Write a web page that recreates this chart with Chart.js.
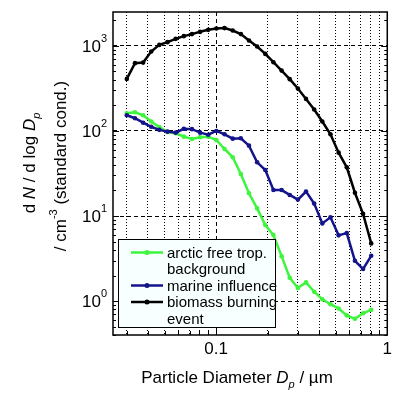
<!DOCTYPE html>
<html>
<head>
<meta charset="utf-8">
<script src="https://cdn.jsdelivr.net/npm/chart.js@4.4.0/dist/chart.umd.min.js"></script>
<style>
html, body { margin: 0; padding: 0; background: #fff; }
#wrap { width: 396px; height: 397px; }
</style>
</head>
<body>
<div id="wrap"><canvas id="size_dist"></canvas></div>
<script>
// particle diameter (um) of each size bin
var diameters = [0.0301, 0.0336, 0.0375, 0.0418, 0.0466, 0.0520, 0.0581, 0.0648, 0.0723, 0.0807,
    0.0900, 0.1004, 0.1121, 0.1251, 0.1395, 0.1557, 0.1737, 0.1939, 0.2163, 0.2414,
    0.2693, 0.3005, 0.3353, 0.3741, 0.4175, 0.4658, 0.5198, 0.5800, 0.6472, 0.7222, 0.8058];

// dN/dlogDp, cm-3
var arcticFree = [161.5, 166, 153, 129, 111, 97.3, 94, 85.7, 80.5, 84.3,
    85.7, 78.3, 61.4, 49.0, 31.2, 18.5, 12.3, 7.84, 5.98, 3.38,
    1.88, 1.43, 1.66, 1.29, 1.05, 0.92, 0.82, 0.68, 0.62, 0.72, 0.79];
var marine = [153, 141, 125, 112, 103, 98.2, 95.5, 106, 105, 95.5,
    90.4, 100, 91.4, 81.2, 82.0, 67.2, 42.8, 34.8, 20.2, 20.2,
    17.7, 15.6, 19.4, 14.0, 8.2, 9.66, 5.93, 6.31, 2.98, 2.39, 3.41];
var biomass = [409, 626, 636, 857, 1027, 1106, 1209, 1301, 1374, 1462,
    1543, 1599, 1616, 1514, 1374, 1154, 982, 805, 643, 512,
    406, 315, 238, 179, 129, 91.4, 55.6, 37.4, 18.8, 10.6, 4.77];

var seriesLabels = [['arctic free trop.', 'background'], ['marine influence'], ['biomass burning', 'event']];
var seriesColors = ['#3cf53c', '#14148c', '#000000'];

var xTickValues = [0.03, 0.04, 0.05, 0.06, 0.07, 0.08, 0.09, 0.1, 0.2, 0.3, 0.4, 0.5, 0.6, 0.7, 0.8, 0.9, 1];
var xTickLabels = ['0.1', '1'];
var yTickValues = [0.4, 0.5, 0.6, 0.7, 0.8, 0.9, 1, 2, 3, 4, 5, 6, 7, 8, 9,
    10, 20, 30, 40, 50, 60, 70, 80, 90, 100, 200, 300, 400, 500, 600, 700, 800, 900, 1000, 2000];
var yDecades = [1, 10, 100, 1000];
var yDecadeExp = ['0', '1', '2', '3'];

var FONT = '"Liberation Sans", Arial, sans-serif';

function isDecade(v) {
    var l = Math.log10(v);
    return Math.abs(l - Math.round(l)) < 1e-6;
}

function richWidth(ctx, parts) {
    var w = 0;
    parts.forEach(function(p) {
        ctx.font = (p.italic ? 'italic ' : '') + p.size + 'px ' + FONT;
        w += ctx.measureText(p.t).width;
    });
    return w;
}

function drawRich(ctx, parts, x, y) {
    parts.forEach(function(p) {
        ctx.font = (p.italic ? 'italic ' : '') + p.size + 'px ' + FONT;
        ctx.fillText(p.t, x, y + (p.dy || 0));
        x += ctx.measureText(p.t).width;
    });
}

var decorations = {
    id: 'decorations',
    afterDraw: function(chart) {
        var ctx = chart.ctx;
        var a = chart.chartArea;
        var xs = chart.scales.x;
        var ys = chart.scales.y;
        ctx.save();
        ctx.strokeStyle = '#000';
        ctx.fillStyle = '#000';

        // inward tick marks
        ctx.lineWidth = 1;
        ctx.beginPath();
        yTickValues.forEach(function(v) {
            var py = Math.round(ys.getPixelForValue(v)) + 0.5;
            var len = isDecade(v) ? 6 : 3;
            ctx.moveTo(a.left, py); ctx.lineTo(a.left + len, py);
            ctx.moveTo(a.right, py); ctx.lineTo(a.right - len, py);
        });
        xTickValues.forEach(function(v) {
            var px = Math.round(xs.getPixelForValue(v)) + 0.5;
            var len = isDecade(v) ? 6 : 4;
            ctx.moveTo(px, a.bottom); ctx.lineTo(px, a.bottom - len);
        });
        ctx.stroke();

        // frame
        ctx.lineWidth = 1.5;
        ctx.strokeRect(a.left, a.top, a.right - a.left, a.bottom - a.top);

        // y tick labels 10^n
        ctx.textBaseline = 'alphabetic';
        ctx.textAlign = 'left';
        yDecades.forEach(function(v, i) {
            var py = ys.getPixelForValue(v);
            var parts = [{t: '10', size: 17}, {t: yDecadeExp[i], size: 11, dy: -10}];
            var w = richWidth(ctx, parts);
            drawRich(ctx, parts, 107 - w, py + 6);
        });

        // x title
        var xt = [{t: 'Particle Diameter ', size: 17}, {t: 'D', size: 17, italic: true},
            {t: 'p', size: 11, italic: true, dy: 5}, {t: ' / \u00b5m', size: 17}];
        drawRich(ctx, xt, 237 - richWidth(ctx, xt) / 2, 383);

        // y title, two rotated lines
        var yt1 = [{t: 'd ', size: 17}, {t: 'N', size: 17, italic: true}, {t: ' / d log ', size: 17},
            {t: 'D', size: 17, italic: true}, {t: 'p', size: 11, italic: true, dy: 5}];
        var yt2 = [{t: '/ cm', size: 17}, {t: '-3', size: 11, dy: -9}, {t: ' (standard cond.)', size: 17}];
        ctx.save();
        ctx.translate(35, 163);
        ctx.rotate(-Math.PI / 2);
        drawRich(ctx, yt1, -richWidth(ctx, yt1) / 2, 0);
        ctx.restore();
        ctx.save();
        ctx.translate(66, 166);
        ctx.rotate(-Math.PI / 2);
        drawRich(ctx, yt2, -richWidth(ctx, yt2) / 2, 0);
        ctx.restore();

        // legend box
        ctx.fillStyle = '#f8ffff';
        ctx.fillRect(118.5, 239.5, 157, 88);
        ctx.lineWidth = 1;
        ctx.strokeStyle = '#000';
        ctx.strokeRect(118.5, 239.5, 157, 88);
        var lineY = 252.5;
        var step = 16.5;
        seriesLabels.forEach(function(lines, i) {
            ctx.strokeStyle = seriesColors[i];
            ctx.fillStyle = seriesColors[i];
            ctx.lineWidth = 2.5;
            ctx.beginPath();
            ctx.moveTo(131, lineY); ctx.lineTo(163, lineY);
            ctx.stroke();
            ctx.beginPath();
            ctx.arc(147, lineY, 2.5, 0, Math.PI * 2);
            ctx.fill();
            ctx.fillStyle = '#000';
            ctx.font = '15px ' + FONT;
            lines.forEach(function(txt) {
                ctx.fillText(txt, 167, lineY + 5);
                lineY += step;
            });
        });
        ctx.restore();
    }
};

function makeSeries(values) {
    return diameters.map(function(d, i) { return {x: d, y: values[i]}; });
}

var seriesData = [arcticFree, marine, biomass];

var ctx = document.getElementById('size_dist');
var sizeChart = new Chart(ctx, {
    type: 'line',
    data: {
        datasets: seriesData.map(function(vals, i) {
            return {
                label: seriesLabels[i].join(' '),
                data: makeSeries(vals),
                borderColor: seriesColors[i],
                backgroundColor: seriesColors[i],
                pointBackgroundColor: seriesColors[i],
                pointBorderColor: seriesColors[i],
                borderWidth: 2.5,
                pointRadius: 2.3,
                pointBorderWidth: 0,
                tension: 0,
                order: 3 - i
            };
        })
    },
    options: {
        animation: false,
        responsive: true,
        maintainAspectRatio: false,
        layout: { padding: { top: 12, right: 3, left: 0, bottom: 0 } },
        plugins: { legend: { display: false }, tooltip: { enabled: false } },
        scales: {
            x: {
                type: 'logarithmic',
                min: 0.025,
                max: 1,
                afterBuildTicks: function(scale) {
                    scale.ticks = xTickValues.map(function(v) { return {value: v}; });
                },
                afterFit: function(scale) { scale.height = 62; },
                ticks: {
                    autoSkip: false,
                    maxRotation: 0,
                    padding: 4,
                    color: '#000',
                    font: { family: FONT, size: 17 },
                    callback: function(v) {
                        var s = String(Number(v.toPrecision(3)));
                        return xTickLabels.indexOf(s) >= 0 ? s : '';
                    }
                },
                grid: {
                    drawTicks: false,
                    lineWidth: 1,
                    color: function(c) {
                        if (!c.tick || c.tick.value >= 1) return 'rgba(0,0,0,0)';
                        return '#000';
                    }
                },
                border: {
                    display: false,
                    dash: function(c) {
                        if (!c.tick) return [];
                        return isDecade(c.tick.value) ? [4, 3] : [1, 2];
                    }
                }
            },
            y: {
                type: 'logarithmic',
                min: 0.4,
                max: 2500,
                afterBuildTicks: function(scale) {
                    scale.ticks = yTickValues.map(function(v) { return {value: v}; });
                },
                afterFit: function(scale) { scale.width = 113; },
                ticks: { display: false, autoSkip: false },
                grid: {
                    drawTicks: false,
                    lineWidth: 1,
                    color: function(c) {
                        if (!c.tick || !isDecade(c.tick.value)) return 'rgba(0,0,0,0)';
                        return '#000';
                    }
                },
                border: {
                    display: false,
                    dash: function(c) { return c.tick ? [4, 3] : []; }
                }
            }
        }
    },
    plugins: [decorations]
});
</script>
</body>
</html>
